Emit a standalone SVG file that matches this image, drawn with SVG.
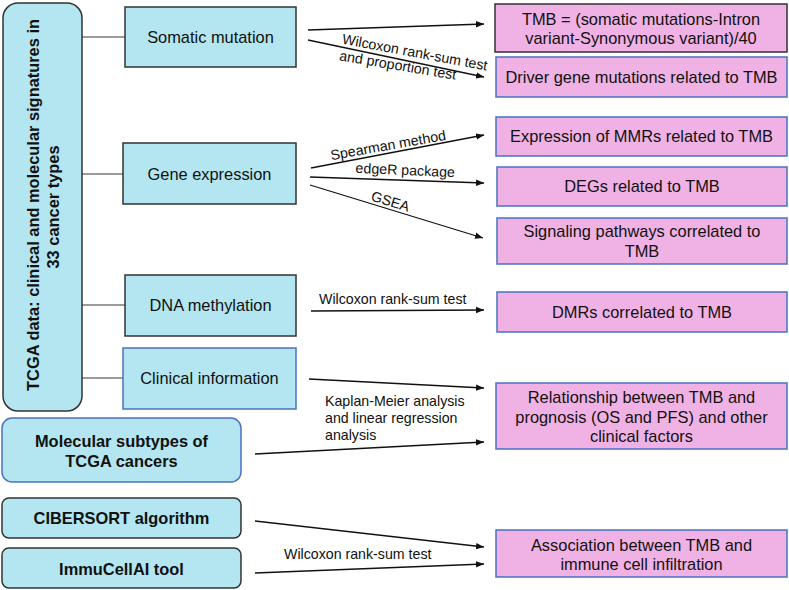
<svg xmlns="http://www.w3.org/2000/svg" width="789" height="590" viewBox="0 0 789 590">
<style>
.blue{fill:#b3e6f0;stroke:#333;stroke-width:1.5}
.blueb{fill:#b3e6f0;stroke:#4a72be;stroke-width:1.5}
.pink{fill:#f0b2e4;stroke:#4a72be;stroke-width:1.5}
.pinkd{fill:#f0b2e4;stroke:#333;stroke-width:1.5}
text{font-family:"Liberation Sans",Arial,sans-serif;fill:#111}
.t{font-size:16.4px;text-anchor:middle}
.b{font-size:16.4px;font-weight:bold;text-anchor:middle}
.l{font-size:14.2px}
.lc{font-size:14.2px;text-anchor:middle}
.c{stroke:#7a7a7a;stroke-width:1.3;fill:none}
.a{stroke:#111;stroke-width:1.3;fill:none;marker-end:url(#ah)}
</style>
<defs>
<marker id="ah" viewBox="0 0 10 10" refX="10" refY="5" markerWidth="8" markerHeight="8" markerUnits="userSpaceOnUse" orient="auto">
<path d="M0,1 L10,5 L0,9 z" fill="#111"/>
</marker>
</defs>
<rect width="789" height="590" fill="#fff"/>
<g id="connectors">
<line class="c" x1="82" y1="37" x2="125" y2="37"/>
<line class="c" x1="82" y1="174" x2="123" y2="174"/>
<line class="c" x1="82" y1="305" x2="125" y2="305"/>
<line class="c" x1="82" y1="378" x2="123" y2="378"/>
<line class="a" x1="308" y1="30" x2="484" y2="24"/>
<line class="a" x1="308" y1="40" x2="484" y2="77"/>
<line class="a" x1="311" y1="168" x2="484" y2="135"/>
<line class="a" x1="310" y1="177" x2="484" y2="183"/>
<line class="a" x1="310" y1="185" x2="483" y2="238"/>
<line class="a" x1="311" y1="311" x2="484" y2="310"/>
<line class="a" x1="309" y1="379" x2="484" y2="388"/>
<line class="a" x1="255" y1="454" x2="484" y2="442"/>
<line class="a" x1="255" y1="521" x2="484" y2="547"/>
<line class="a" x1="255" y1="573" x2="484" y2="564"/>
<text class="lc" transform="translate(414,57) rotate(10.5)">Wilcoxon rank-sum test</text>
<text class="lc" transform="translate(397,70) rotate(9.5)">and proportion test</text>
<text class="lc" transform="translate(389,150) rotate(-10)">Spearman method</text>
<text class="lc" transform="translate(405,175) rotate(2.5)">edgeR package</text>
<text class="lc" transform="translate(389,206) rotate(17)">GSEA</text>
<text class="l" x="319" y="304">Wilcoxon rank-sum test</text>
<text class="l" x="325" y="406">Kaplan-Meier analysis</text>
<text class="l" x="325" y="423">and linear regression</text>
<text class="l" x="325" y="440">analysis</text>
<text class="l" x="284" y="559">Wilcoxon rank-sum test</text>
</g>
<g id="tcga">
<rect class="blue" x="3" y="3" width="79" height="408" rx="15"/>
<text class="b" transform="translate(39,205) rotate(-90)">TCGA data: clinical and molecular signatures in</text>
<text class="b" transform="translate(59,207) rotate(-90)">33 cancer types</text>
</g>
<g id="somatic">
<rect class="blue" x="125" y="7" width="171" height="60"/>
<text class="t" x="210.5" y="43">Somatic mutation</text>
</g>
<g id="gene">
<rect class="blue" x="123" y="143" width="173" height="61"/>
<text class="t" x="209.5" y="180">Gene expression</text>
</g>
<g id="dna">
<rect class="blue" x="125" y="275" width="171" height="61"/>
<text class="t" x="210.5" y="311">DNA methylation</text>
</g>
<g id="clinical">
<rect class="blueb" x="123" y="348" width="173" height="61"/>
<text class="t" x="209.5" y="384">Clinical information</text>
</g>
<g id="molecular">
<rect class="blueb" x="2" y="418" width="239" height="64" rx="10"/>
<text class="b" x="121.5" y="447">Molecular subtypes of</text>
<text class="b" x="121.5" y="467">TCGA cancers</text>
</g>
<g id="cibersort">
<rect class="blue" x="2" y="498" width="239" height="40" rx="7"/>
<text class="b" x="121.5" y="524">CIBERSORT algorithm</text>
</g>
<g id="immucellai">
<rect class="blue" x="2" y="548" width="239" height="40" rx="7"/>
<text class="b" x="121.5" y="575">ImmuCellAI tool</text>
</g>
<g id="tmb">
<rect class="pinkd" x="495" y="4" width="292" height="48"/>
<text class="t" x="641" y="25">TMB = (somatic mutations-Intron</text>
<text class="t" x="641" y="44">variant-Synonymous variant)/40</text>
</g>
<g id="driver">
<rect class="pink" x="496" y="57" width="291" height="40"/>
<text class="t" x="641.5" y="83">Driver gene mutations related to TMB</text>
</g>
<g id="mmr">
<rect class="pink" x="496" y="117" width="291" height="39"/>
<text class="t" x="641.5" y="142">Expression of MMRs related to TMB</text>
</g>
<g id="degs">
<rect class="pink" x="497" y="167" width="290" height="39"/>
<text class="t" x="642" y="192">DEGs related to TMB</text>
</g>
<g id="signaling">
<rect class="pink" x="497" y="218" width="290" height="46"/>
<text class="t" x="642" y="237">Signaling pathways correlated to</text>
<text class="t" x="642" y="257">TMB</text>
</g>
<g id="dmrs">
<rect class="pink" x="497" y="292" width="290" height="40"/>
<text class="t" x="642" y="318">DMRs correlated to TMB</text>
</g>
<g id="relationship">
<rect class="pink" x="496" y="383" width="291" height="66"/>
<text class="t" x="641.5" y="403">Relationship between TMB and</text>
<text class="t" x="641.5" y="423">prognosis (OS and PFS) and other</text>
<text class="t" x="641.5" y="442">clinical factors</text>
</g>
<g id="association">
<rect class="pink" x="496" y="530" width="291" height="47"/>
<text class="t" x="641.5" y="551">Association between TMB and</text>
<text class="t" x="641.5" y="570">immune cell infiltration</text>
</g>
</svg>
